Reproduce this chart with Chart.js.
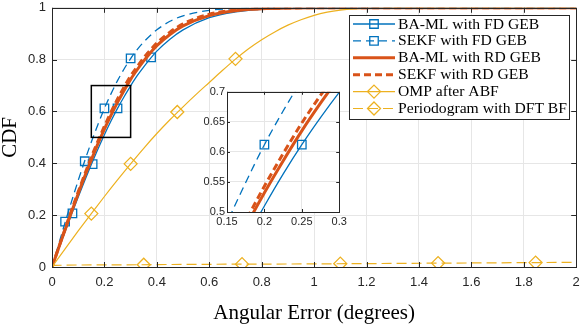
<!DOCTYPE html>
<html>
<head>
<meta charset="utf-8">
<script src="https://cdn.jsdelivr.net/npm/chart.js@4.4.1/dist/chart.umd.min.js"></script>
<style>
  html, body { margin: 0; padding: 0; background: #fff; }
  #wrap { position: relative; width: 584px; height: 328px; }
  #mainChart { position: absolute; left: 0; top: 0; }
  #insetChart { position: absolute; left: 197px; top: 84px; }
</style>
</head>
<body>
<div id="wrap">
  <canvas id="mainChart" width="584" height="328"></canvas>
  <canvas id="insetChart" width="150" height="150"></canvas>
</div>
<script>
// angular error grid shared by the four GEB curves
const cdfX = [0, 0.025, 0.05, 0.075, 0.1, 0.125, 0.15, 0.175, 0.2, 0.225, 0.25, 0.275, 0.3, 0.325, 0.35, 0.375, 0.4, 0.45, 0.5, 0.6, 0.7, 0.8, 0.9, 1.0, 1.2, 1.5, 2.0];
const bamlFdY = [0, 0.069, 0.137, 0.204, 0.270, 0.334, 0.395, 0.454, 0.510, 0.563, 0.612, 0.657, 0.699, 0.738, 0.772, 0.804, 0.833, 0.879, 0.915, 0.962, 0.984, 0.994, 0.998, 0.999, 1, 1, 1];
const sekfFdY = [0, 0.086, 0.172, 0.254, 0.334, 0.410, 0.482, 0.549, 0.612, 0.668, 0.719, 0.764, 0.804, 0.839, 0.868, 0.893, 0.915, 0.948, 0.969, 0.990, 0.997, 0.999, 1, 1, 1, 1, 1];
const bamlRdY = [0, 0.072, 0.144, 0.214, 0.283, 0.350, 0.413, 0.475, 0.532, 0.585, 0.635, 0.681, 0.724, 0.761, 0.795, 0.826, 0.854, 0.897, 0.930, 0.970, 0.989, 0.996, 0.999, 1, 1, 1, 1];
const sekfRdY = [0, 0.074, 0.148, 0.220, 0.290, 0.358, 0.424, 0.485, 0.543, 0.597, 0.648, 0.694, 0.737, 0.773, 0.807, 0.837, 0.864, 0.906, 0.938, 0.975, 0.991, 0.997, 0.999, 1, 1, 1, 1];

const ompX = [0, 0.05, 0.1, 0.15, 0.2, 0.25, 0.3, 0.35, 0.4, 0.45, 0.5, 0.55, 0.6, 0.65, 0.7, 0.75, 0.8, 0.85, 0.9, 0.95, 1.0, 1.05, 1.1, 1.15, 1.2, 1.3, 1.5, 2.0];
const ompY = [0, 0.07, 0.139, 0.206, 0.272, 0.336, 0.398, 0.458, 0.515, 0.568, 0.618, 0.666, 0.712, 0.758, 0.802, 0.842, 0.877, 0.907, 0.933, 0.954, 0.971, 0.983, 0.991, 0.996, 0.998, 1, 1, 1];

const perX = [0, 0.01, 0.2, 0.5, 1.0, 1.5, 2.0];
const perY = [0, 0.006, 0.008, 0.010, 0.012, 0.015, 0.018];

// marker positions
const bamlFdMarkX = [0.078, 0.155, 0.25, 0.378];
const bamlFdMarkY = [0.207, 0.397, 0.612, 0.809];
const sekfFdMarkX = [0.05, 0.125, 0.2, 0.3];
const sekfFdMarkY = [0.175, 0.408, 0.612, 0.805];
const ompMarkX = [0.15, 0.3, 0.478, 0.7];
const ompMarkY = [0.206, 0.398, 0.598, 0.803];
const perMarkX = [0.35, 0.725, 1.1, 1.473, 1.845];
const perMarkY = [0.009, 0.011, 0.013, 0.015, 0.017];

// ticks
const xTicks = [0, 0.2, 0.4, 0.6, 0.8, 1, 1.2, 1.4, 1.6, 1.8, 2];
const xTickLabels = ["0", "0.2", "0.4", "0.6", "0.8", "1", "1.2", "1.4", "1.6", "1.8", "2"];
const yTicks = [0, 0.2, 0.4, 0.6, 0.8, 1];
const yTickLabels = ["0", "0.2", "0.4", "0.6", "0.8", "1"];
const insetXTicks = [0.15, 0.2, 0.25, 0.3];
const insetXTickLabels = ["0.15", "0.2", "0.25", "0.3"];
const insetYTicks = [0.5, 0.55, 0.6, 0.65, 0.7];
const insetYTickLabels = ["0.5", "0.55", "0.6", "0.65", "0.7"];

const BLUE = "#0072BD", ORANGE = "#D95319", YELLOW = "#EDB120";
const AXIS = "#262626", GRID = "#e6e6e6";

const series = [
  { label: "BA-ML with FD GEB", x: cdfX, y: bamlFdY, mx: bamlFdMarkX, my: bamlFdMarkY, color: BLUE, width: 1.3, dash: [], marker: "rect" },
  { label: "SEKF with FD GEB", x: cdfX, y: sekfFdY, mx: sekfFdMarkX, my: sekfFdMarkY, color: BLUE, width: 1.3, dash: [8, 5], marker: "rect" },
  { label: "BA-ML with RD GEB", x: cdfX, y: bamlRdY, color: ORANGE, width: 3, dash: [] },
  { label: "SEKF with RD GEB", x: cdfX, y: sekfRdY, color: ORANGE, width: 3, dash: [7, 4] },
  { label: "OMP after ABF", x: ompX, y: ompY, mx: ompMarkX, my: ompMarkY, color: YELLOW, width: 1.2, dash: [], marker: "rectRot" },
  { label: "Periodogram with DFT BF", x: perX, y: perY, mx: perMarkX, my: perMarkY, color: YELLOW, width: 1.2, dash: [10, 5], marker: "rectRot" }
];

function pts(xs, ys) {
  return xs.map((x, i) => ({ x: x, y: ys[i] }));
}

function buildDatasets() {
  const out = [];
  series.forEach((s, i) => {
    out.push({
      label: s.label,
      data: pts(s.x, s.y),
      showLine: true,
      borderColor: s.color,
      borderWidth: s.width,
      borderDash: s.dash,
      pointRadius: 0,
      pointHoverRadius: 0,
      cubicInterpolationMode: "monotone",
      order: -i * 2
    });
    if (s.marker) {
      out.push({
        label: s.label + " markers",
        data: pts(s.mx, s.my),
        showLine: false,
        pointStyle: s.marker,
        pointRadius: s.marker === "rect" ? 6 : 6.5,
        pointBorderWidth: 1.3,
        pointBorderColor: s.color,
        pointBackgroundColor: "rgba(0,0,0,0)",
        order: -i * 2 - 1
      });
    }
  });
  return out;
}

// box round the axes with inward ticks, like MATLAB
const framePlugin = {
  id: "frame",
  afterDatasetsDraw(chart, args, opts) {
    const ctx = chart.ctx;
    const a = chart.chartArea;
    const xs = chart.scales.x, ys = chart.scales.y;
    const len = opts.tick || 5;
    ctx.save();
    ctx.strokeStyle = AXIS;
    ctx.lineWidth = 1;
    ctx.setLineDash([]);
    ctx.beginPath();
    xs.ticks.forEach(t => {
      const px = Math.round(xs.getPixelForValue(t.value)) + 0.5;
      ctx.moveTo(px, a.bottom); ctx.lineTo(px, a.bottom - len);
      ctx.moveTo(px, a.top); ctx.lineTo(px, a.top + len);
    });
    ys.ticks.forEach(t => {
      const py = Math.round(ys.getPixelForValue(t.value)) + 0.5;
      ctx.moveTo(a.left, py); ctx.lineTo(a.left + len, py);
      ctx.moveTo(a.right, py); ctx.lineTo(a.right - len, py);
    });
    ctx.stroke();
    ctx.strokeRect(Math.round(a.left) + 0.5, Math.round(a.top) + 0.5, Math.round(a.width), Math.round(a.height));
    ctx.restore();
  }
};

const whiteArea = {
  id: "whiteArea",
  beforeDraw(chart) {
    const a = chart.chartArea;
    chart.ctx.save();
    chart.ctx.fillStyle = "#fff";
    chart.ctx.fillRect(a.left, a.top, a.width, a.height);
    chart.ctx.restore();
  }
};

// black rectangle marking the zoomed region
const zoomBox = {
  id: "zoomBox",
  afterDatasetsDraw(chart) {
    const xs = chart.scales.x, ys = chart.scales.y;
    const x0 = xs.getPixelForValue(insetXTicks[0]);
    const x1 = xs.getPixelForValue(insetXTicks[insetXTicks.length - 1]);
    const y0 = ys.getPixelForValue(insetYTicks[insetYTicks.length - 1]);
    const y1 = ys.getPixelForValue(insetYTicks[0]);
    const ctx = chart.ctx;
    ctx.save();
    ctx.strokeStyle = "#000";
    ctx.lineWidth = 1.5;
    ctx.strokeRect(x0, y0, x1 - x0, y1 - y0);
    ctx.restore();
  }
};

function drawMarker(ctx, style, x, y, r) {
  ctx.beginPath();
  if (style === "rect") {
    const h = r * Math.SQRT1_2;
    ctx.rect(x - h, y - h, 2 * h, 2 * h);
  } else {
    ctx.moveTo(x, y - r); ctx.lineTo(x + r, y); ctx.lineTo(x, y + r); ctx.lineTo(x - r, y); ctx.closePath();
  }
  ctx.stroke();
}

const boxLegend = {
  id: "boxLegend",
  afterDraw(chart) {
    const ctx = chart.ctx;
    ctx.save();
    ctx.fillStyle = "#fff";
    ctx.fillRect(349.5, 15.5, 220, 104);
    ctx.strokeStyle = AXIS;
    ctx.lineWidth = 1;
    ctx.strokeRect(349.5, 15.5, 220, 104);
    ctx.font = "15.5px 'Liberation Serif', 'Times New Roman', serif";
    // the LaTeX font of the original is wider than Times: stretch to the same width
    const longest = ctx.measureText(series[series.length - 1].label).width;
    const stretch = 169 / longest;
    series.forEach((s, i) => {
      const y = 24 + i * 16.9;
      ctx.strokeStyle = s.color;
      ctx.lineWidth = s.width;
      ctx.setLineDash(s.dash);
      ctx.beginPath(); ctx.moveTo(353, y); ctx.lineTo(395, y); ctx.stroke();
      ctx.setLineDash([]);
      if (s.marker) {
        ctx.lineWidth = 1.3;
        drawMarker(ctx, s.marker, 374, y, s.marker === "rect" ? 6 : 6.5);
      }
      ctx.save();
      ctx.translate(398, y + 0.5);
      ctx.scale(stretch, 1);
      ctx.fillStyle = "#000";
      ctx.textBaseline = "middle";
      ctx.textAlign = "left";
      ctx.fillText(s.label, 0, 0);
      ctx.restore();
    });
    ctx.restore();
  }
};

function axis(min, max, ticks, labels, fontSize, pad, fitFn) {
  return {
    type: "linear",
    min: min,
    max: max,
    afterBuildTicks: s => { s.ticks = ticks.map(v => ({ value: v })); },
    afterFit: fitFn,
    grid: { color: GRID, lineWidth: 1, drawTicks: false },
    border: { display: false },
    ticks: {
      padding: pad,
      color: AXIS,
      font: { family: "'Liberation Sans', Arial, sans-serif", size: fontSize },
      callback: (v, i) => labels[i]
    }
  };
}

const mainX = axis(0, 2, xTicks, xTickLabels, 13, 8, s => {
  s.height = 61; s.paddingLeft = 0; s.paddingRight = 0;
});
mainX.title = {
  display: true, text: "Angular Error (degrees)", color: "#000",
  font: { family: "'Liberation Serif', 'Times New Roman', serif", size: 21, lineHeight: 1 },
  padding: { top: 0, bottom: 4 }
};
const mainY = axis(0, 1, yTicks, yTickLabels, 13, 6, s => {
  s.width = 52; s.paddingTop = 0; s.paddingBottom = 0;
});
mainY.title = {
  display: true, text: "CDF", color: "#000",
  font: { family: "'Liberation Serif', 'Times New Roman', serif", size: 21, lineHeight: 1 },
  padding: { top: 0, bottom: 0 }
};

new Chart(document.getElementById("mainChart"), {
  type: "scatter",
  data: { datasets: buildDatasets() },
  options: {
    responsive: false,
    animation: false,
    events: [],
    layout: { padding: { top: 3, right: 7, left: 0, bottom: 0 } },
    scales: { x: mainX, y: mainY },
    plugins: { legend: { display: false }, tooltip: { enabled: false }, frame: { tick: 5 } }
  },
  plugins: [framePlugin, zoomBox, boxLegend]
});

new Chart(document.getElementById("insetChart"), {
  type: "scatter",
  data: { datasets: buildDatasets() },
  options: {
    responsive: false,
    animation: false,
    events: [],
    layout: { padding: { top: 7, right: 5, left: 0, bottom: 0 } },
    scales: {
      x: axis(0.15, 0.3, insetXTicks, insetXTickLabels, 11, 3, s => {
        s.height = 22; s.paddingLeft = 0; s.paddingRight = 0;
      }),
      y: axis(0.5, 0.7, insetYTicks, insetYTickLabels, 11, 2, s => {
        s.width = 30; s.paddingTop = 0; s.paddingBottom = 0;
      })
    },
    plugins: { legend: { display: false }, tooltip: { enabled: false }, frame: { tick: 3 } }
  },
  plugins: [whiteArea, framePlugin]
});
</script>
</body>
</html>
